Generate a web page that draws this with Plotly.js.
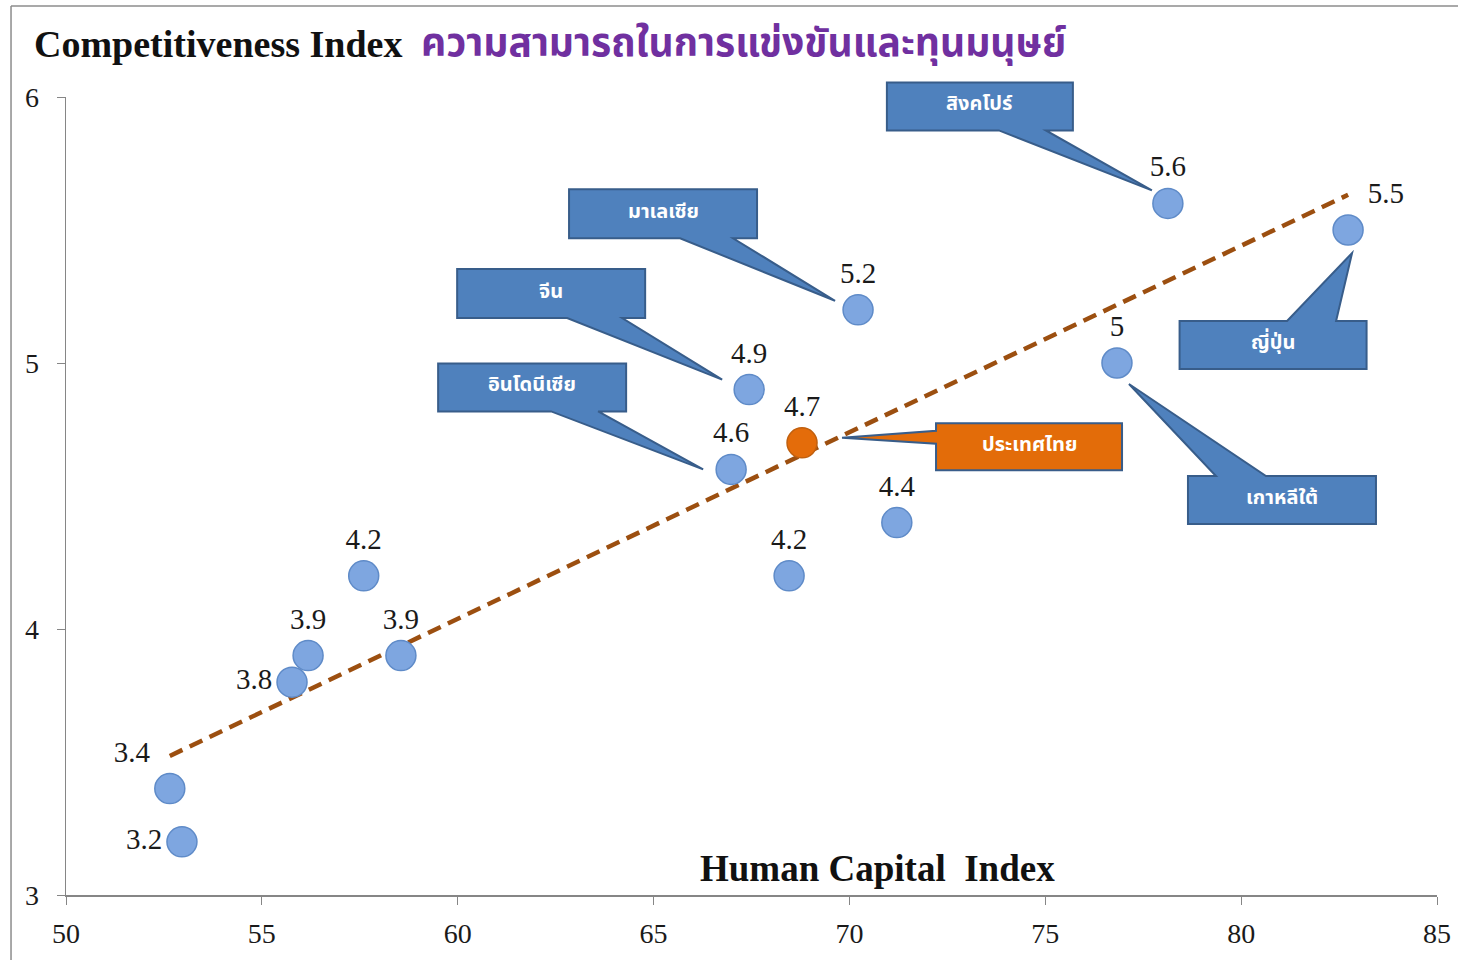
<!DOCTYPE html>
<html>
<head>
<meta charset="utf-8">
<script src="https://cdn.plot.ly/plotly-3.0.1.min.js"></script>
<style>html,body{margin:0;padding:0;background:#fff;}#chart{width:1458px;height:960px;}</style>
</head>
<body>
<div id="chart"></div>
<script>
// ---- data ----
const humanCapital = [52.96, 52.65, 55.77, 56.18, 57.6, 58.55, 66.98, 67.44, 68.79, 68.46, 70.22, 71.21, 76.83, 78.13, 82.73];
const competitiveness = [3.2, 3.4, 3.8, 3.9, 4.2, 3.9, 4.6, 4.9, 4.7, 4.2, 5.2, 4.4, 5.0, 5.6, 5.5];
const countryNames = ['', '', '', '', '', '', 'อินโดนีเซีย', 'จีน', 'ประเทศไทย', '', 'มาเลเซีย', '', 'เกาหลีใต้', 'สิงคโปร์', 'ญี่ปุ่น'];
const highlightCountry = 'ประเทศไทย';
const labelPositions = ['middle left', 'top left', 'middle left', 'top center', 'top center', 'top center',
  'top center', 'top center', 'top center', 'top center', 'top center', 'top center', 'top center', 'top center', 'top right'];
const xTickVals = [50, 55, 60, 65, 70, 75, 80, 85];
const yTickVals = [3, 4, 5, 6];
const xRange = [50, 85];
const yRange = [3, 6];
const titleEn = 'Competitiveness Index';
const titleTh = 'ความสามารถในการแข่งขันและทุนมนุษย์';
const xTitle = 'Human Capital\u00a0 Index';

// callout geometry (pixel offsets from the data point, screen y down)
const calloutStyle = {
  'สิงคโปร์':   {bx: -188, by: -97, w: 186, h: 48, tip: [-16, -13], side: 'bottom', b1: 19, b2: 66},
  'มาเลเซีย':   {bx: -195, by: -96, w: 188, h: 49, tip: [-23, -9], side: 'bottom', b1: 17, b2: 70},
  'จีน':        {bx: -198, by: -96, w: 188, h: 49, tip: [-27, -10], side: 'bottom', b1: 16, b2: 71},
  'อินโดนีเซีย': {bx: -199, by: -82, w: 188, h: 48, tip: [-28, 0], side: 'bottom', b1: 19, b2: 66},
  'ประเทศไทย':  {bx: 227, by: 4, w: 186, h: 47, tip: [40, -5], side: 'left', b1: -16, b2: -3},
  'ญี่ปุ่น':     {bx: -75, by: 115, w: 187, h: 48, tip: [4, 23], side: 'top', b1: 14, b2: 63},
  'เกาหลีใต้':  {bx: 165, by: 137, w: 188, h: 48, tip: [12, 21], side: 'top', b1: -66, b2: -16}
};

// ---- regression trend line ----
const n = humanCapital.length;
const mx = humanCapital.reduce((a, b) => a + b, 0) / n;
const my = competitiveness.reduce((a, b) => a + b, 0) / n;
let sxy = 0, sxx = 0;
for (let i = 0; i < n; i++) { sxy += (humanCapital[i] - mx) * (competitiveness[i] - my); sxx += (humanCapital[i] - mx) ** 2; }
const slope = sxy / sxx, intercept = my - slope * mx;
const xMin = Math.min(...humanCapital), xMax = Math.max(...humanCapital);
const trendX = [xMin, xMax];
const trendY = trendX.map(v => intercept + slope * v);

const serif = 'Liberation Serif, Times New Roman, serif';
const thai = 'Noto Sans Thai, Noto Sans, Tahoma, sans-serif';

const markerColors = countryNames.map(c => c === highlightCountry ? '#E46C0A' : '#7EA6E0');
const markerLines = countryNames.map(c => c === highlightCountry ? '#C0600F' : '#5F8BC8');

const traces = [
  {x: trendX, y: trendY, mode: 'lines', type: 'scatter', hoverinfo: 'skip',
   line: {color: '#9C4F10', width: 4.5, dash: '14px,8px'}},
  {x: humanCapital, y: competitiveness, mode: 'markers+text', type: 'scatter', cliponaxis: false,
   text: competitiveness.map(v => String(v)), textposition: labelPositions,
   textfont: {family: serif, size: 29, color: '#1a1a1a'},
   marker: {size: 30, color: markerColors, line: {color: markerLines, width: 1.5}}}
];

function calloutPath(c) {
  const L = c.bx - c.w / 2, R = c.bx + c.w / 2, T = c.by - c.h / 2, B = c.by + c.h / 2;
  const [tx, ty] = c.tip;
  let pts;
  if (c.side === 'bottom') pts = [[L, T], [R, T], [R, B], [c.bx + c.b2, B], [tx, ty], [c.bx + c.b1, B], [L, B]];
  else if (c.side === 'top') pts = [[L, T], [c.bx + c.b1, T], [tx, ty], [c.bx + c.b2, T], [R, T], [R, B], [L, B]];
  else pts = [[L, T], [R, T], [R, B], [L, B], [L, c.by + c.b2], [tx, ty], [L, c.by + c.b1]];
  return 'M ' + pts.map(p => p[0] + ',' + (-p[1])).join(' L ') + ' Z';
}

// data value -> paper fraction (so callouts are not clipped by the plot area)
const toPaperX = v => (v - xRange[0]) / (xRange[1] - xRange[0]);
const toPaperY = v => (v - yRange[0]) / (yRange[1] - yRange[0]);

const shapes = [];
const annotations = [];
countryNames.forEach((name, i) => {
  if (!name) return;
  const c = calloutStyle[name];
  const isHi = name === highlightCountry;
  shapes.push({type: 'path', xref: 'paper', yref: 'paper', xsizemode: 'pixel', ysizemode: 'pixel',
    xanchor: toPaperX(humanCapital[i]), yanchor: toPaperY(competitiveness[i]), path: calloutPath(c),
    fillcolor: isHi ? '#E36C09' : '#4F81BD', line: {color: '#385D8A', width: 2}, layer: 'below'});
  annotations.push({xref: 'paper', yref: 'paper', x: toPaperX(humanCapital[i]), y: toPaperY(competitiveness[i]),
    xanchor: 'center', yanchor: 'middle',
    xshift: c.bx, yshift: -c.by + 2, showarrow: false, text: '<b>' + name + '</b>',
    font: {family: thai, size: 20, color: '#ffffff'}});
});

// frame lines around the chart area
shapes.push({type: 'line', xref: 'paper', yref: 'paper', x0: -0.0401, x1: 1.02, y0: 1.114, y1: 1.114, line: {color: '#8c8c8c', width: 1.5}});
shapes.push({type: 'line', xref: 'paper', yref: 'paper', x0: -0.0401, x1: -0.0401, y0: 1.114, y1: -0.09, line: {color: '#8c8c8c', width: 1.5}});

annotations.push({xref: 'paper', yref: 'paper', x: -0.025, y: 1.066, xanchor: 'left', yanchor: 'middle',
  showarrow: false, text: '<b>' + titleEn + '</b>', font: {family: serif, size: 38, color: '#111'}});
annotations.push({xref: 'paper', yref: 'paper', x: (419 - 66) / 1371, y: 1.066, xanchor: 'left', yanchor: 'middle',
  showarrow: false, text: '<b>' + titleTh + '</b>', font: {family: thai, size: 39, color: '#7030A0'}});
annotations.push({xref: 'paper', yref: 'paper', x: (877 - 66) / 1371, y: (895 - 868) / 798, xanchor: 'center', yanchor: 'middle',
  showarrow: false, text: '<b>' + xTitle + '</b>', font: {family: serif, size: 37, color: '#111'}});

const layout = {
  width: 1458, height: 960,
  margin: {l: 66, r: 21, t: 97, b: 65},
  paper_bgcolor: '#ffffff', plot_bgcolor: 'rgba(0,0,0,0)',
  showlegend: false,
  xaxis: {range: xRange, tickvals: xTickVals, ticks: 'outside', ticklen: 8, tickcolor: '#868686',
    showline: true, linecolor: '#868686', linewidth: 1.5, showgrid: false, zeroline: false,
    tickfont: {family: serif, size: 28, color: '#1a1a1a'}, ticklabelstandoff: 5},
  yaxis: {range: yRange, tickvals: yTickVals, ticks: 'outside', ticklen: 8, tickcolor: '#868686',
    showline: true, linecolor: '#868686', linewidth: 1.5, showgrid: false, zeroline: false,
    tickfont: {family: serif, size: 28, color: '#1a1a1a'}, ticklabelstandoff: 12},
  shapes: shapes,
  annotations: annotations
};

Plotly.newPlot('chart', traces, layout, {displayModeBar: false, staticPlot: true});
</script>
</body>
</html>
